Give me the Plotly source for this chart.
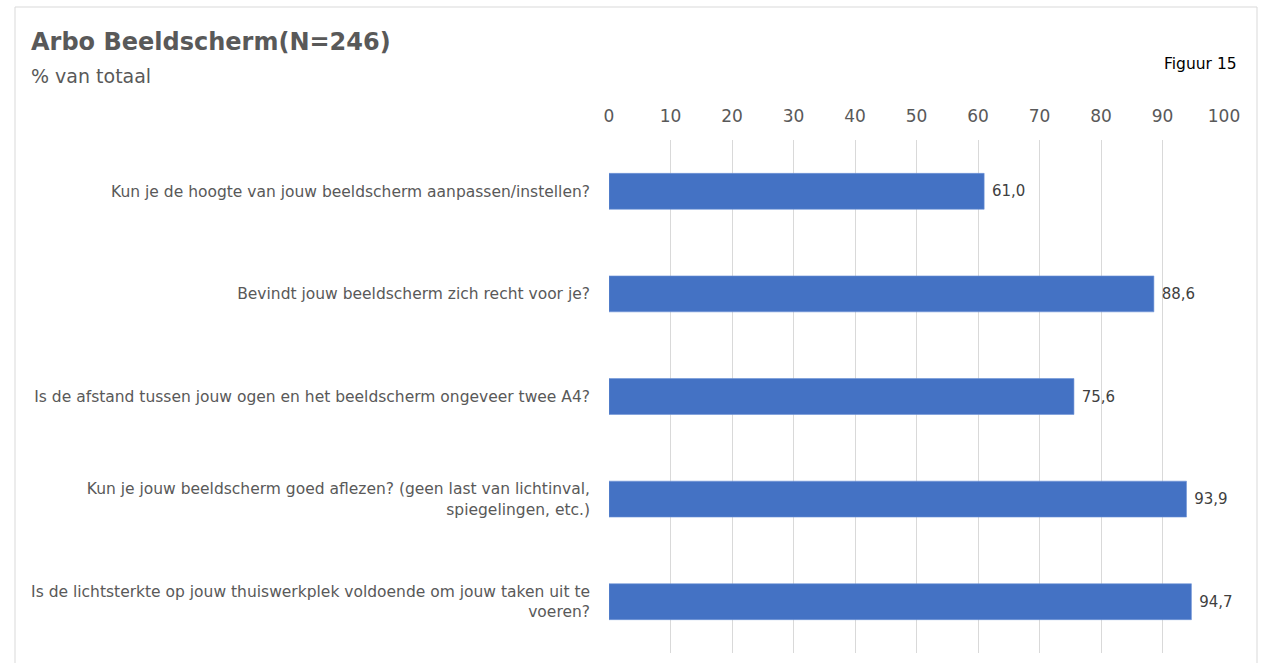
import plotly.graph_objects as go

# Survey items and share of "yes" answers (% of total, N=246)
questions = [
    "Kun je de hoogte van jouw beeldscherm aanpassen/instellen?",
    "Bevindt jouw beeldscherm zich recht voor je?",
    "Is de afstand tussen jouw ogen en het beeldscherm ongeveer twee A4?",
    "Kun je jouw beeldscherm goed aflezen? (geen last van lichtinval,<br>spiegelingen, etc.)",
    "Is de lichtsterkte op jouw thuiswerkplek voldoende om jouw taken uit te<br>voeren?",
]
percentages = [61.0, 88.6, 75.6, 93.9, 94.7]
tick_values = [0, 10, 20, 30, 40, 50, 60, 70, 80, 90, 100]

FONT = "DejaVu Sans"
W, H = 1263, 663
ML, MR, MT, MB = 609, 39, 140, 10
PW, PH = W - ML - MR, H - MT - MB


def px_x(px):
    return (px - ML) / PW


def px_y(py):
    return (H - MB - py) / PH


labels = ["\u00a0" + f"{v:.1f}".replace(".", ",") for v in percentages]

fig = go.Figure(
    go.Bar(
        x=percentages,
        y=questions,
        orientation="h",
        marker=dict(color="#4472C4", line=dict(color="#6f93d6", width=0.6)),
        text=labels,
        textposition="outside",
        textfont=dict(family=FONT, size=15, color="#404040"),
        cliponaxis=False,
        hoverinfo="skip",
    )
)

fig.update_layout(
    width=W,
    height=H,
    margin=dict(l=ML, r=MR, t=MT, b=MB),
    paper_bgcolor="white",
    plot_bgcolor="white",
    bargap=0.65,
    showlegend=False,
    font=dict(family=FONT, color="#595959"),
    xaxis=dict(
        side="top",
        range=[0, 100],
        tickvals=tick_values,
        showgrid=True,
        gridcolor="#D9D9D9",
        gridwidth=1,
        zeroline=False,
        showline=False,
        ticks="",
        tickfont=dict(family=FONT, size=17, color="#595959"),
        ticklabelstandoff=14,
        fixedrange=True,
    ),
    yaxis=dict(
        autorange="reversed",
        showgrid=False,
        zeroline=False,
        showline=False,
        ticks="",
        tickfont=dict(family=FONT, size=15.5, color="#595959"),
        ticklabelstandoff=18,
        fixedrange=True,
    ),
    shapes=[
        dict(
            type="rect",
            xref="paper",
            yref="paper",
            x0=px_x(15),
            x1=px_x(1257),
            y0=px_y(670),
            y1=px_y(7),
            line=dict(color="#D9D9D9", width=1),
            fillcolor="rgba(0,0,0,0)",
            layer="below",
        )
    ],
    annotations=[
        dict(
            text="<b>Arbo Beeldscherm(N=246)</b>",
            xref="paper",
            yref="paper",
            x=px_x(29),
            y=px_y(42),
            xanchor="left",
            yanchor="middle",
            showarrow=False,
            font=dict(family=FONT, size=24, color="#595959"),
        ),
        dict(
            text="% van totaal",
            xref="paper",
            yref="paper",
            x=px_x(29),
            y=px_y(76),
            xanchor="left",
            yanchor="middle",
            showarrow=False,
            font=dict(family=FONT, size=19, color="#595959"),
        ),
        dict(
            text="Figuur 15",
            xref="paper",
            yref="paper",
            x=px_x(1239),
            y=px_y(64),
            xanchor="right",
            yanchor="middle",
            showarrow=False,
            font=dict(family=FONT, size=15.5, color="#000000"),
        ),
    ],
)

fig.write_html("out.html")
